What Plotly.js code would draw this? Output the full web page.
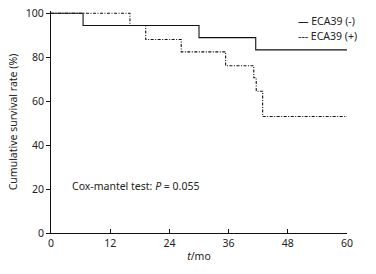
<!DOCTYPE html>
<html>
<head>
<meta charset="utf-8">
<script src="https://cdn.plot.ly/plotly-3.0.1.min.js"></script>
<style>html,body{margin:0;padding:0;background:#fff;}#chart{width:376px;height:274px;}</style>
</head>
<body>
<div id="chart"></div>
<script>
// Data
var negTimes = [0, 6.5, 30, 41.5, 60];
var negSurvival = [100, 94.4, 88.9, 83.3, 83.3];
var posTimes = [0, 16, 19.2, 26.4, 35.4, 41.1, 41.6, 42.9, 60];
var posSurvival = [100, 94.4, 88, 82.4, 76.1, 70.6, 64.5, 53, 53];
var xTicks = [0, 12, 24, 36, 48, 60];
var yTicks = [0, 20, 40, 60, 80, 100];
var seriesNames = ['ECA39 (-)', 'ECA39 (+)'];

var font = {family: 'Noto Sans, Liberation Sans, sans-serif', size: 10.5, color: '#222'};

var traces = [
  {x: negTimes, y: negSurvival, name: seriesNames[0], mode: 'lines', line: {shape: 'hv', color: '#111', width: 1.1}, showlegend: false},
  {x: posTimes, y: posSurvival, name: seriesNames[1], mode: 'lines', line: {shape: 'hv', color: '#111', width: 1.1, dash: '3px,1.5px,1px,1.5px'}, showlegend: false}
];

var layout = {
  width: 376, height: 274,
  margin: {l: 51, r: 29, t: 11, b: 41},
  paper_bgcolor: '#fff', plot_bgcolor: '#fff',
  font: font,
  showlegend: false,
  xaxis: {
    range: [0, 60], tickvals: xTicks, ticktext: xTicks.map(String),
    ticks: 'inside', ticklen: 4, tickcolor: '#111', tickwidth: 1,
    showline: true, linecolor: '#111', linewidth: 1, showgrid: false, zeroline: false,
    title: {text: '<i>t</i>/mo', font: font, standoff: 4}
  },
  yaxis: {
    range: [0, 101], tickvals: yTicks, ticktext: yTicks.map(String),
    ticks: 'outside', ticklen: 4, tickcolor: '#111', tickwidth: 1,
    showline: true, linecolor: '#111', linewidth: 1, showgrid: false, zeroline: false,
    title: {text: 'Cumulative survival rate (%)', font: font, standoff: 6}
  },
  annotations: [
    {x: 3.85, y: 21.2, xref: 'x', yref: 'y', xanchor: 'left', yanchor: 'middle', showarrow: false,
     text: 'Cox-mantel test: <i>P</i> = 0.055', font: font},
    {x: 49.6, y: 96.5, xref: 'x', yref: 'y', xanchor: 'left', yanchor: 'middle', showarrow: false,
     text: '— ' + seriesNames[0], font: font},
    {x: 49.6, y: 89.7, xref: 'x', yref: 'y', xanchor: 'left', yanchor: 'middle', showarrow: false,
     text: '--- ' + seriesNames[1], font: font}
  ]
};

Plotly.newPlot('chart', traces, layout, {staticPlot: true, displayModeBar: false});
</script>
</body>
</html>
